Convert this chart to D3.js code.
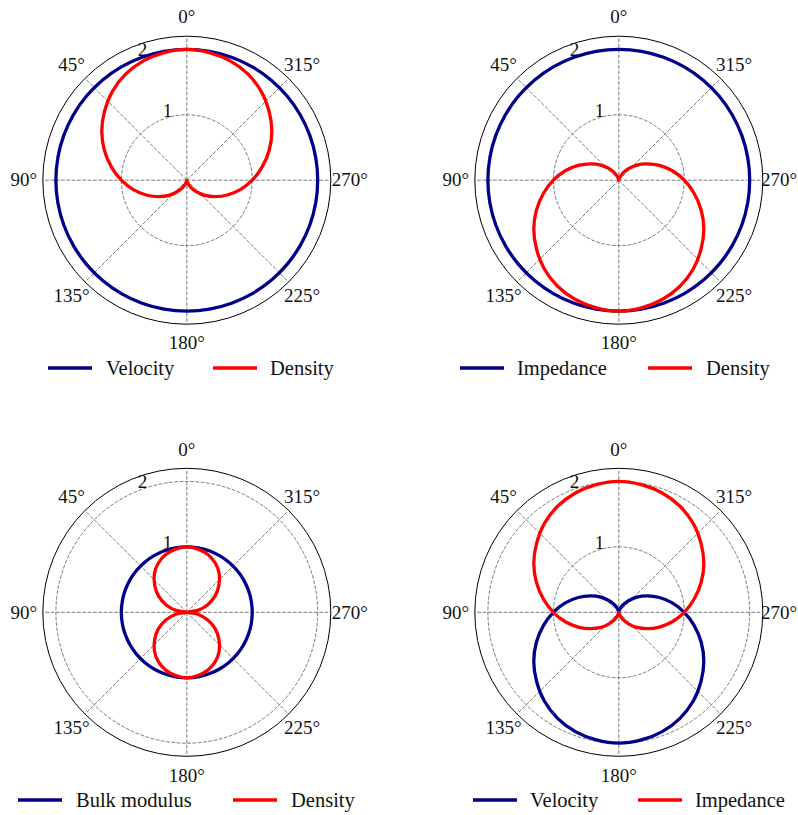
<!DOCTYPE html>
<html>
<head>
<meta charset="utf-8">
<script src="https://cdn.jsdelivr.net/npm/d3@7"></script>
<style>
  html, body { margin: 0; padding: 0; background: #fff; }
  svg { display: block; }
</style>
</head>
<body>
<svg id="chart" width="798" height="815"></svg>
<script>
// ---- data (angle in degrees, counter-clockwise from top) ----
const angles = [0,10,20,30,40,50,60,70,80,90,100,110,120,130,140,150,160,170,
                180,190,200,210,220,230,240,250,260,270,280,290,300,310,320,330,340,350];

const constTwo = [2,2,2,2,2,2,2,2,2,2,2,2,2,2,2,2,2,2,2,2,2,2,2,2,2,2,2,2,2,2,2,2,2,2,2,2];
const constOne = [1,1,1,1,1,1,1,1,1,1,1,1,1,1,1,1,1,1,1,1,1,1,1,1,1,1,1,1,1,1,1,1,1,1,1,1];
const forwardLobe = [2.00,1.98,1.94,1.87,1.77,1.64,1.50,1.34,1.17,1.00,0.83,0.66,0.50,0.36,0.23,0.13,0.06,0.02,
                     0.00,0.02,0.06,0.13,0.23,0.36,0.50,0.66,0.83,1.00,1.17,1.34,1.50,1.64,1.77,1.87,1.94,1.98];
const backwardLobe = [0.00,0.02,0.06,0.13,0.23,0.36,0.50,0.66,0.83,1.00,1.17,1.34,1.50,1.64,1.77,1.87,1.94,1.98,
                      2.00,1.98,1.94,1.87,1.77,1.64,1.50,1.34,1.17,1.00,0.83,0.66,0.50,0.36,0.23,0.13,0.06,0.02];
const dipoleLobes = [1.00,0.98,0.94,0.87,0.77,0.64,0.50,0.34,0.17,0.00,0.17,0.34,0.50,0.64,0.77,0.87,0.94,0.98,
                     1.00,0.98,0.94,0.87,0.77,0.64,0.50,0.34,0.17,0.00,0.17,0.34,0.50,0.64,0.77,0.87,0.94,0.98];

const angleTicks = [0,45,90,135,180,225,270,315];
const angleTickLabels = ["0°","45°","90°","135°","180°","225°","270°","315°"];
const radialTicks = [1,2];
const radialTickLabels = ["1","2"];
const rMax = 2.2;

const panels = [
  { names: ["Velocity","Density"],      series: [constTwo, forwardLobe] },
  { names: ["Impedance","Density"],     series: [constTwo, backwardLobe] },
  { names: ["Bulk modulus","Density"],  series: [constOne, dipoleLobes] },
  { names: ["Velocity","Impedance"],    series: [backwardLobe, forwardLobe] }
];

// ---- layout / style (not data) ----
const FONT = "'Liberation Serif', 'DejaVu Serif', serif";
const colors = ["#00008B", "#FF0000"];
const centers = [[186.8,180.2],[618.8,180.2],[186.8,612.3],[618.8,612.3]];
const outerR = 144;
const W = 798;
const legendLayout = [
  { y: 368, line: [48, 213],  text: [106, 270] },
  { y: 368, line: [460, 648], text: [517, 706] },
  { y: 800, line: [18, 233],  text: [76, 291] },
  { y: 800, line: [473, 638], text: [530, 695] }
];

const svg = d3.select("#chart");
const r = d3.scaleLinear().domain([0, rMax]).range([0, outerR]);
const toRad = d => -d * Math.PI / 180;   // counter-clockwise, zero at top

panels.forEach((p, i) => {
  const [cx, cy] = centers[i];
  const g = svg.append("g").attr("transform", `translate(${cx},${cy})`);

  g.selectAll("circle.grid").data(radialTicks).join("circle")
    .attr("r", d => r(d)).attr("fill", "none")
    .attr("stroke", "#7a7a7a").attr("stroke-width", 1).attr("stroke-dasharray", "3.7,1.6");

  g.selectAll("line.spoke").data(angleTicks).join("line")
    .attr("x1", 0).attr("y1", 0)
    .attr("x2", d => r(rMax) * Math.sin(toRad(d)))
    .attr("y2", d => -r(rMax) * Math.cos(toRad(d)))
    .attr("stroke", "#7a7a7a").attr("stroke-width", 1).attr("stroke-dasharray", "3.7,1.6");

  p.series.forEach((vals, k) => {
    const line = d3.lineRadial()
      .angle((d, j) => toRad(angles[j]))
      .radius(d => r(d))
      .curve(d3.curveCatmullRomClosed.alpha(0.5));
    g.append("path").attr("d", line(vals))
      .attr("fill", "none").attr("stroke", colors[k]).attr("stroke-width", 3.3)
      .attr("stroke-linejoin", "round");
  });

  g.append("circle").attr("r", r(rMax)).attr("fill", "none")
    .attr("stroke", "#000").attr("stroke-width", 1);

  const angLabels = g.selectAll("text.ang").data(angleTicks).join("text")
    .attr("x", d => (r(rMax) + 19) * Math.sin(toRad(d)))
    .attr("y", d => -(r(rMax) + 19) * Math.cos(toRad(d)))
    .attr("text-anchor", "middle").attr("dy", "0.33em")
    .attr("font-family", FONT).attr("font-size", "19px").attr("fill", "#111")
    .text((d, j) => angleTickLabels[j]);
  // keep labels inside the page
  angLabels.each(function() {
    const bb = this.getBBox();
    const right = cx + bb.x + bb.width;
    if (right > W - 1) {
      d3.select(this).attr("x", +d3.select(this).attr("x") - (right - (W - 1)));
    }
  });

  g.selectAll("text.rad").data(radialTicks).join("text")
    .attr("x", d => r(d) * Math.sin(toRad(22.5)) + 1)
    .attr("y", d => -r(d) * Math.cos(toRad(22.5)) - 3)
    .attr("font-family", FONT).attr("font-size", "19px").attr("fill", "#111")
    .text((d, j) => radialTickLabels[j]);

  const L = legendLayout[i];
  p.names.forEach((name, k) => {
    svg.append("line")
      .attr("x1", L.line[k]).attr("x2", L.line[k] + 44)
      .attr("y1", L.y).attr("y2", L.y)
      .attr("stroke", colors[k]).attr("stroke-width", 3.3);
    svg.append("text")
      .attr("x", L.text[k]).attr("y", L.y).attr("dy", "0.33em")
      .attr("font-family", FONT).attr("font-size", "20.5px").attr("fill", "#111")
      .text(name);
  });
});
</script>
</body>
</html>
